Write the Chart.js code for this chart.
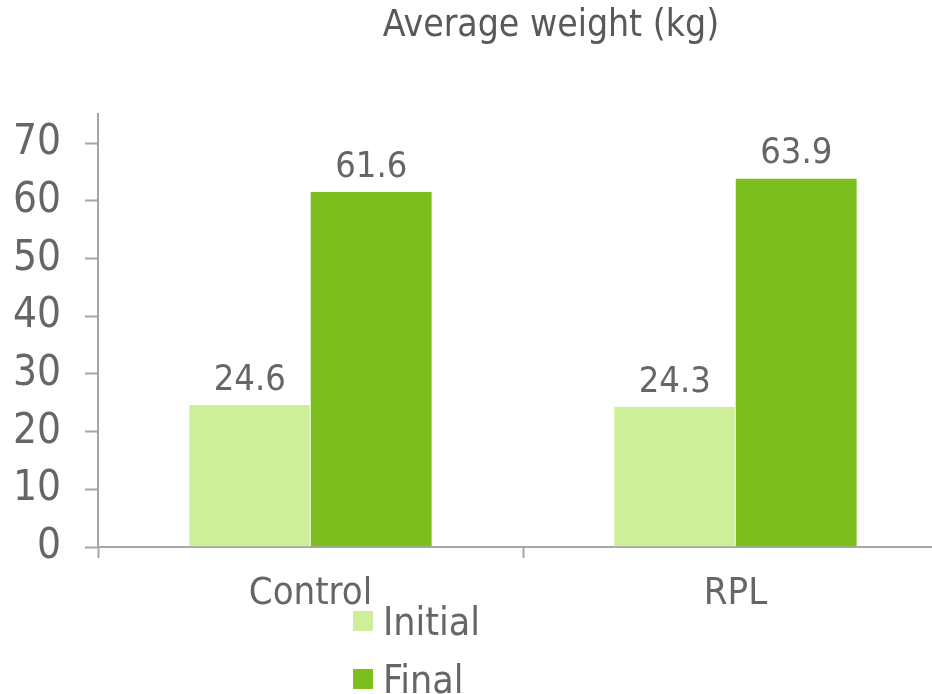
<!DOCTYPE html>
<html>
<head>
<meta charset="utf-8">
<script src="https://cdn.jsdelivr.net/npm/chart.js@4"></script>
<style>
  html, body { margin: 0; padding: 0; background: #fff; overflow: hidden; }
  #wrap { position: relative; width: 1102px; height: 694px; }
  #legend { position: absolute; left: 353px; top: 592px; font-family: "DejaVu Sans Condensed", "DejaVu Sans", sans-serif; font-size: 39px; color: #666; }
  #legend div { height: 58px; display: flex; align-items: center; }
  #legend span.box { display: inline-block; width: 20px; height: 20px; margin-right: 10px; }
</style>
</head>
<body>
<div id="wrap">
  <canvas id="myChart" width="1102" height="694"></canvas>
  <div id="legend"></div>
</div>
<script>
// setup block
const categories = ['Control', 'RPL'];
const initialWeight = [24.6, 24.3];
const finalWeight = [61.6, 63.9];
const yTicks = [0, 10, 20, 30, 40, 50, 60, 70];

const fontFamily = '"DejaVu Sans Condensed", "DejaVu Sans", sans-serif';
const textColor = '#666666';
const axisColor = '#a6a6a6';

// value labels above the bars
const barLabels = {
    id: 'barLabels',
    afterDatasetsDraw(chart) {
        const ctx = chart.ctx;
        ctx.save();
        ctx.font = '36px ' + fontFamily;
        ctx.fillStyle = textColor;
        ctx.textAlign = 'center';
        ctx.textBaseline = 'alphabetic';
        chart.data.datasets.forEach((ds, i) => {
            chart.getDatasetMeta(i).data.forEach((bar, j) => {
                ctx.fillText(ds.data[j].toFixed(1), bar.x, bar.y - 15);
            });
        });
        ctx.restore();
    }
};

const config = {
    type: 'bar',
    data: {
        labels: categories,
        datasets: [{
            label: 'Initial',
            data: initialWeight,
            backgroundColor: '#cdef9a',
            borderColor: '#d9f3b2',
            borderWidth: {left: 1, right: 1, top: 0, bottom: 0},
            categoryPercentage: 0.572,
            barPercentage: 1
        }, {
            label: 'Final',
            data: finalWeight,
            backgroundColor: '#7dbe1f',
            borderColor: '#a6d66a',
            borderWidth: {left: 0, right: 1, top: 0, bottom: 0},
            categoryPercentage: 0.572,
            barPercentage: 1
        }]
    },
    options: {
        responsive: false,
        animation: false,
        layout: {
            padding: 0
        },
        scales: {
            x: {
                z: 1,
                grid: {
                    drawOnChartArea: false,
                    drawTicks: true,
                    tickLength: 11,
                    tickWidth: 2,
                    color: axisColor
                },
                border: {color: axisColor, width: 2},
                ticks: {
                    color: textColor,
                    font: {family: fontFamily, size: 38},
                    padding: 13
                },
                afterFit(scale) {
                    scale.height = 147;
                }
            },
            y: {
                min: 0,
                max: 75,
                grid: {
                    drawOnChartArea: false,
                    tickLength: 13,
                    tickWidth: 2,
                    color: axisColor
                },
                border: {color: axisColor, width: 2},
                ticks: {
                    stepSize: 10,
                    color: textColor,
                    font: {family: fontFamily, size: 42},
                    padding: 24
                },
                afterBuildTicks(scale) {
                    scale.ticks = yTicks.map(v => ({value: v}));
                },
                afterFit(scale) {
                    scale.width = 98;
                }
            },
            // empty right-hand strip, the plot runs past the picture's edge
            spacer: {
                type: 'linear',
                position: 'right',
                display: true,
                grid: {display: false},
                border: {display: false},
                ticks: {display: false},
                afterFit(scale) {
                    scale.width = 154;
                }
            }
        },
        plugins: {
            legend: {display: false},
            tooltip: {enabled: false},
            title: {
                display: true,
                text: 'Average weight (kg)',
                color: '#595959',
                font: {family: fontFamily, size: 37, weight: 'normal'},
                padding: {top: 4, bottom: 66}
            }
        }
    },
    plugins: [barLabels]
};

const myChart = new Chart(document.getElementById('myChart'), config);

// legend block
const legendEl = document.getElementById('legend');
myChart.data.datasets.forEach(ds => {
    const row = document.createElement('div');
    const box = document.createElement('span');
    box.className = 'box';
    box.style.background = ds.backgroundColor;
    row.appendChild(box);
    row.appendChild(document.createTextNode(ds.label));
    legendEl.appendChild(row);
});
</script>
</body>
</html>
